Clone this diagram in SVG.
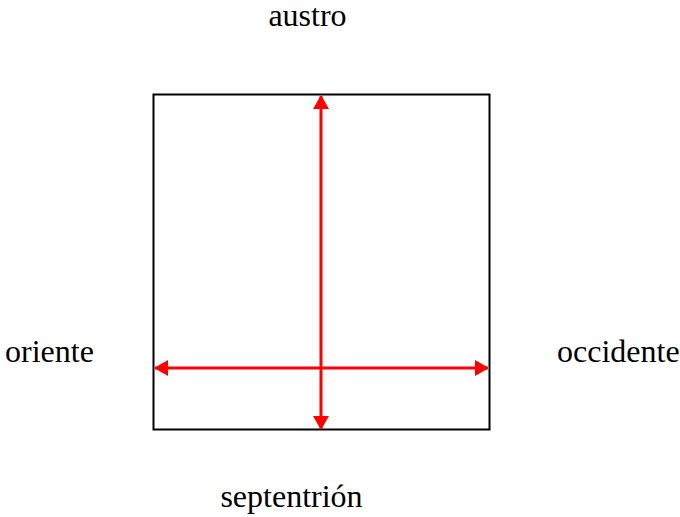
<svg xmlns="http://www.w3.org/2000/svg" width="680" height="517" viewBox="0 0 680 517">
<style>
.lbl{font-family:"Liberation Serif","Times New Roman",serif;font-size:32px;fill:#000}
.arr{stroke:#ff0000;stroke-width:3;fill:none}
</style>
<defs>
<marker id="ah" viewBox="0 0 14 16" refX="13" refY="8" markerWidth="14" markerHeight="16" markerUnits="userSpaceOnUse" orient="auto-start-reverse">
<path d="M0,0 L14,8 L0,16 Z" fill="#ff0000"/>
</marker>
</defs>
<rect width="680" height="517" fill="#fff"/>
<g id="box"><rect x="153.5" y="94.5" width="336" height="335" fill="none" stroke="#000" stroke-width="2"/></g>
<g id="connectors">
<line class="arr" x1="321" y1="96" x2="321" y2="429" marker-start="url(#ah)" marker-end="url(#ah)"/>
<line class="arr" x1="155" y1="368" x2="488" y2="368" marker-start="url(#ah)" marker-end="url(#ah)"/>
</g>
<g id="austro"><text class="lbl" x="307.5" y="26" text-anchor="middle">austro</text></g>
<g id="oriente"><text class="lbl" x="5" y="362">oriente</text></g>
<g id="occidente"><text class="lbl" x="557" y="362">occidente</text></g>
<g id="septentrion"><text class="lbl" x="291.5" y="507" text-anchor="middle">septentrión</text></g>
</svg>
